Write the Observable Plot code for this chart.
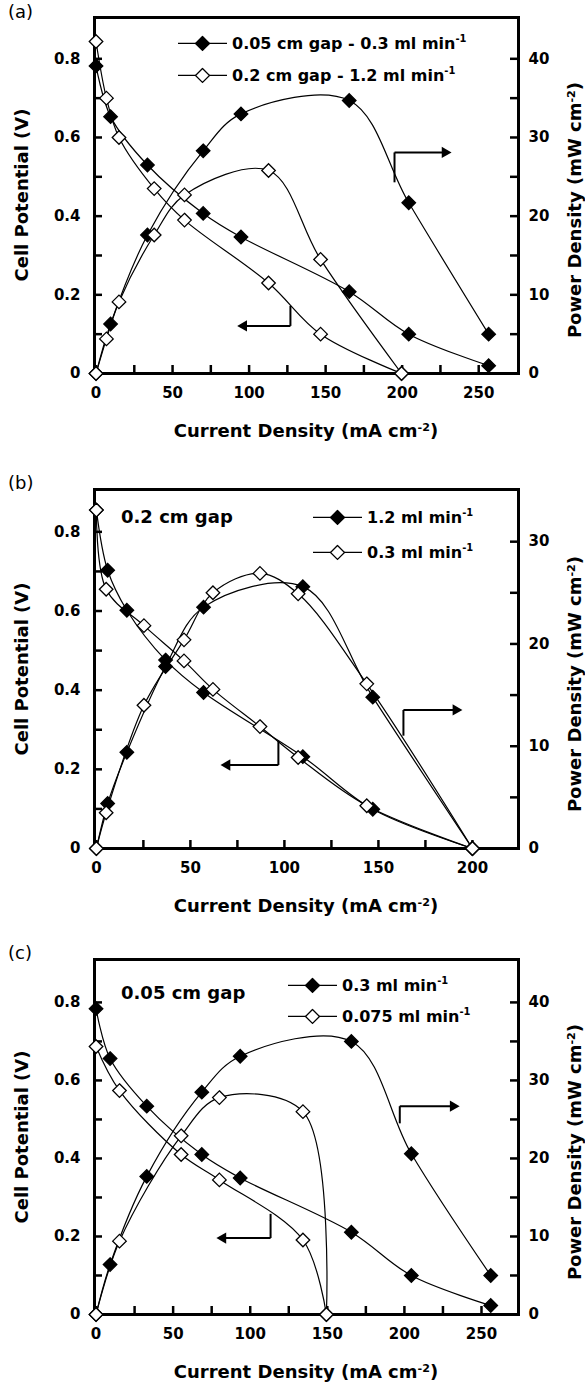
<!DOCTYPE html>
<html><head><meta charset="utf-8">
<script src="https://cdn.jsdelivr.net/npm/d3@7"></script>
<script src="https://cdn.jsdelivr.net/npm/@observablehq/plot@0.6"></script>
<style>
body{margin:0;background:#fff;font-family:"DejaVu Sans",sans-serif;color:#000;}
.panel{position:relative;width:585px;overflow:hidden;}
.panel svg{display:block;}
.ov{position:absolute;white-space:nowrap;line-height:1;color:#000;}
.b{font-weight:bold;}
.sup{font-size:0.62em;vertical-align:0.62em;}
.rot{transform:translate(-50%,-50%) rotate(-90deg);}
.ctr{transform:translate(-50%,-50%);}
.row{display:flex;align-items:center;transform:translateY(-50%);}
</style></head><body><div id="root"></div>
<script>
// ---------- Panel (a): 0.05 cm gap - 0.3 ml/min  vs  0.2 cm gap - 1.2 ml/min
const aFilledI = [0, 9.5, 33.6, 70, 94.7, 165.4, 204.3, 256.5];
const aFilledV = [0.782, 0.653, 0.530, 0.407, 0.347, 0.208, 0.100, 0.020];
const aFilledP = [0, 6.3, 17.6, 28.3, 33.0, 34.7, 21.7, 5.0];
const aOpenI = [0, 6.8, 15, 38, 57.8, 112.7, 146.7, 199.6];
const aOpenV = [0.844, 0.700, 0.600, 0.470, 0.390, 0.230, 0.100, 0];
const aOpenP = [0, 4.4, 9.1, 17.6, 22.7, 25.8, 14.5, 0];

// ---------- Panel (b): 0.2 cm gap, 1.2 ml/min vs 0.3 ml/min
const bFilledI = [0, 6, 16.2, 36.8, 57, 109.8, 147, 200];
const bFilledV = [0.855, 0.703, 0.602, 0.476, 0.394, 0.232, 0.099, 0];
const bFilledP = [0, 4.4, 9.4, 17.8, 23.6, 25.6, 14.8, 0];
const bOpenI = [0, 5.2, 25.3, 46.6, 62, 87, 107.3, 143.8, 200];
const bOpenV = [0.855, 0.655, 0.563, 0.474, 0.402, 0.308, 0.230, 0.108, 0];
const bOpenP = [0, 3.5, 14.0, 20.4, 25.0, 26.9, 24.9, 16.1, 0];

// ---------- Panel (c): 0.05 cm gap, 0.3 ml/min vs 0.075 ml/min
const cFilledI = [0, 9.1, 32.9, 68.6, 93.5, 165.6, 204.5, 256];
const cFilledV = [0.784, 0.656, 0.534, 0.410, 0.350, 0.211, 0.100, 0.023];
const cFilledP = [0, 6.4, 17.7, 28.5, 33.1, 35.0, 20.6, 5.0];
const cOpenI = [0, 15.2, 55.2, 80, 134.2, 149.4];
const cOpenV = [0.687, 0.574, 0.410, 0.345, 0.191, 0];
const cOpenP = [0, 9.4, 22.9, 27.8, 26.0, 0];

// ---------- tick labels
const xTicksAC = [0, 50, 100, 150, 200, 250];
const xTicksB = [0, 50, 100, 150, 200];
const vTicks = [0, 0.2, 0.4, 0.6, 0.8];
const pTicksAC = [0, 10, 20, 30, 40];
const pTicksB = [0, 10, 20, 30];

// ---------- legend / annotation texts
const legendA = [["0.05 cm gap - 0.3 ml min", true], ["0.2 cm gap - 1.2 ml min", false]];
const legendB = [["1.2 ml min", true], ["0.3 ml min", false]];
const legendC = [["0.3 ml min", true], ["0.075 ml min", false]];

// arrows (data units): x of vertical stem, y where stem starts on curve, y of bend, x of tip
const arrowsA = [{x: 127, y0: 0.172, y1: 0.121, tip: 96.5, dir: -1}, {x: 195, y0: 0.486, y1: 0.562, tip: 228, dir: 1}];
const arrowsB = [{x: 96.8, y0: 0.272, y1: 0.211, tip: 69.5, dir: -1}, {x: 163.3, y0: 0.285, y1: 0.35, tip: 191.2, dir: 1}];
const arrowsC = [{x: 113.2, y0: 0.258, y1: 0.196, tip: 82.3, dir: -1}, {x: 197, y0: 0.49, y1: 0.534, tip: 231.6, dir: 1}];

const W = 585, ML = 94, MR = 67;
const FONT = '"DejaVu Sans", sans-serif';

function diamondSVG(filled) {
  return `<svg width="49" height="16" style="display:block"><line x1="0" y1="8" x2="49" y2="8" stroke="#000" stroke-width="1.3"/>` +
    `<polygon points="24.5,1 31.5,8 24.5,15 17.5,8" fill="${filled ? "#000" : "#fff"}" stroke="#000" stroke-width="1.3"/></svg>`;
}

function panel(cfg) {
  const {H, mt, mb, xDomain, yMax, k, series, xTicks, pTicks, arrows} = cfg;
  const frameW = W - ML - MR, frameH = H - mt - mb;
  const marks = [];
  for (const s of series) {
    const vData = s.I.map((x, i) => ({x, y: s.V[i]}));
    const pData = s.I.map((x, i) => ({x, y: s.P[i] / k}));
    marks.push(Plot.line(vData, {x: "x", y: "y", curve: "catmull-rom", stroke: "#000", strokeWidth: 1.2}));
    marks.push(Plot.line(pData, {x: "x", y: "y", curve: "catmull-rom", stroke: "#000", strokeWidth: 1.2}));
  }
  const vMinor = d3.range(0, 0.85, 0.1);
  const pMinor = d3.range(0, pTicks[pTicks.length - 1] + 1, 5).map(p => p / k);
  const xMinor = d3.range(0, xDomain[1] - 2, 25);
  marks.push(
    Plot.tickY(vMinor, {insetRight: frameW - 8, stroke: "#000", strokeWidth: 2.5}),
    Plot.tickY(pMinor, {insetLeft: frameW - 8, stroke: "#000", strokeWidth: 2.5}),
    Plot.tickX(xMinor, {insetTop: frameH - 8, stroke: "#000", strokeWidth: 2.5}),
    Plot.axisY(vTicks, {anchor: "left", tickSize: 0, tickPadding: 14, label: null,
      tickFormat: d => d === 0 ? "0" : d.toFixed(1)}),
    Plot.axisY(pTicks.map(p => p / k), {anchor: "right", tickSize: 0, tickPadding: 10, label: null,
      tickFormat: v => String(Math.round(v * k))}),
    Plot.axisX(xTicks, {anchor: "bottom", tickSize: 0, tickPadding: 14, label: null}),
    Plot.frame({stroke: "#000", strokeWidth: 3})
  );
  // arrows
  marks.push(
    Plot.link(arrows, {x1: "x", x2: "x", y1: "y0", y2: "y1", stroke: "#000", strokeWidth: 2}),
    Plot.link(arrows, {x1: "x", x2: "tip", y1: "y1", y2: "y1", stroke: "#000", strokeWidth: 2}),
    Plot.dot(arrows, {x: "tip", y: "y1", symbol: "triangle", r: 4.2, fill: "#000", rotate: d => d.dir * 90})
  );
  // points
  for (const s of series) {
    const vData = s.I.map((x, i) => ({x, y: s.V[i]}));
    const pData = s.I.map((x, i) => ({x, y: s.P[i] / k}));
    const style = {x: "x", y: "y", symbol: "diamond2", r: 6.1, stroke: "#000", strokeWidth: 1.3, fill: s.filled ? "#000" : "#fff"};
    marks.push(Plot.dot(vData, style), Plot.dot(pData, style));
  }
  const svg = Plot.plot({
    width: W, height: H, marginLeft: ML, marginRight: MR, marginTop: mt, marginBottom: mb,
    x: {domain: xDomain}, y: {domain: [0, yMax]},
    style: {fontFamily: FONT, fontSize: "15px", fontWeight: "bold", color: "#000", background: "transparent"},
    marks
  });
  const div = document.createElement("div");
  div.className = "panel";
  div.style.height = H + "px";
  div.appendChild(svg);
  const fcx = ML + frameW / 2, fcy = mt + frameH / 2;
  let html = "";
  html += `<div class="ov" style="left:8px;top:${cfg.letterY}px;font-size:18px;transform:translateY(-50%)">${cfg.letter}</div>`;
  html += `<div class="ov b rot" style="left:22px;top:${fcy}px;font-size:18px">Cell Potential (V)</div>`;
  html += `<div class="ov b rot" style="left:575px;top:${fcy + 15}px;font-size:18px">Power Density (mW cm<span class="sup">-2</span>)</div>`;
  html += `<div class="ov b ctr" style="left:${fcx}px;top:${H - mb + 58}px;font-size:18px">Current Density (mA cm<span class="sup">-2</span>)</div>`;
  cfg.legend.forEach(([t, filled], i) => {
    html += `<div class="ov b row" style="left:${cfg.legX}px;top:${cfg.legY[i]}px;font-size:16px">${diamondSVG(filled)}<span style="margin-left:5px">${t}<span class="sup">-1</span></span></div>`;
  });
  if (cfg.note) html += `<div class="ov b" style="left:121px;top:${cfg.noteY}px;font-size:18px;transform:translateY(-50%)">${cfg.note}</div>`;
  div.insertAdjacentHTML("beforeend", html);
  return div;
}

const root = document.getElementById("root");
root.appendChild(panel({
  H: 471, mt: 17, mb: 98, xDomain: [-1, 276], yMax: 0.905, k: 50,
  series: [{I: aFilledI, V: aFilledV, P: aFilledP, filled: true}, {I: aOpenI, V: aOpenV, P: aOpenP, filled: false}],
  xTicks: xTicksAC, pTicks: pTicksAC, arrows: arrowsA,
  legend: legendA, legX: 178, legY: [43, 75], letter: "(a)", letterY: 12
}));
root.appendChild(panel({
  H: 470, mt: 18, mb: 93, xDomain: [-1, 224.5], yMax: 0.907, k: 38.7,
  series: [{I: bFilledI, V: bFilledV, P: bFilledP, filled: true}, {I: bOpenI, V: bOpenV, P: bOpenP, filled: false}],
  xTicks: xTicksB, pTicks: pTicksB, arrows: arrowsB,
  legend: legendB, legX: 313, legY: [46, 81], letter: "(b)", letterY: 12,
  note: "0.2 cm gap", noteY: 46
}));
root.appendChild(panel({
  H: 445, mt: 18, mb: 72, xDomain: [-1, 274], yMax: 0.91, k: 50,
  series: [{I: cFilledI, V: cFilledV, P: cFilledP, filled: true}, {I: cOpenI, V: cOpenV, P: cOpenP, filled: false}],
  xTicks: xTicksAC, pTicks: pTicksAC, arrows: arrowsC,
  legend: legendC, legX: 288, legY: [44, 75], letter: "(c)", letterY: 12,
  note: "0.05 cm gap", noteY: 52
}));
</script></body></html>
